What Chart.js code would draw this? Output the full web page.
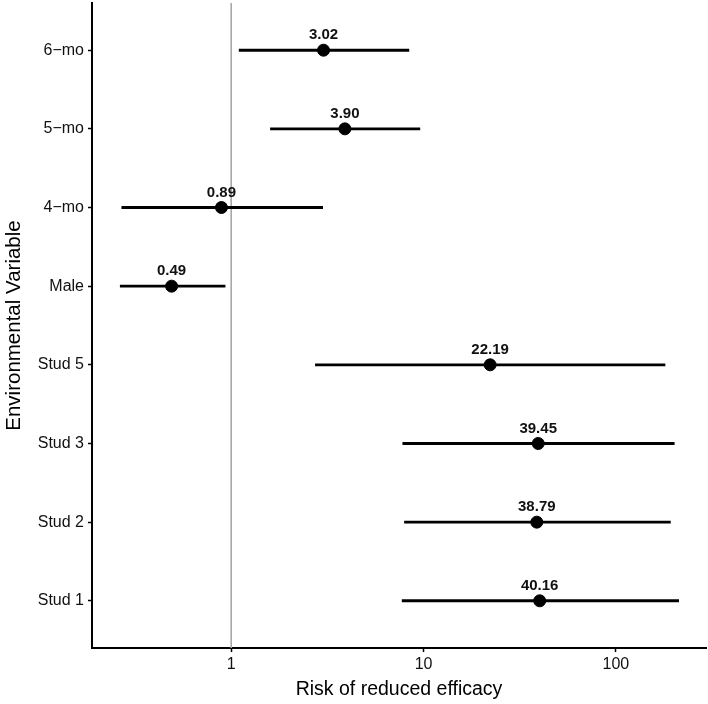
<!DOCTYPE html>
<html>
<head>
<meta charset="utf-8">
<script src="https://cdn.jsdelivr.net/npm/chart.js"></script>
<style>
  html, body { margin: 0; padding: 0; background: #fff; }
  #wrap { width: 708px; height: 704px; }
</style>
</head>
<body>
<div id="wrap"><canvas id="forest" width="708" height="704"></canvas></div>
<script>
// forest plot: odds of reduced efficacy per variable (log x axis)
const categories = ['6\u2212mo', '5\u2212mo', '4\u2212mo', 'Male', 'Stud 5', 'Stud 3', 'Stud 2', 'Stud 1'];
const estimates = [3.02, 3.90, 0.89, 0.49, 22.19, 39.45, 38.79, 40.16];
const lowerCI = [1.10, 1.60, 0.27, 0.265, 2.74, 7.80, 7.96, 7.74];
const upperCI = [8.39, 9.57, 2.99, 0.93, 180, 201, 192, 212];
const xTicks = [1, 10, 100];
const refValue = 1;

const FONT = "'Liberation Sans', Arial, sans-serif";

const pointLabels = {
  id: 'pointLabels',
  afterDatasetsDraw(chart) {
    const ctx = chart.ctx;
    const meta = chart.getDatasetMeta(2);
    ctx.save();
    ctx.font = 'bold 15px ' + FONT;
    ctx.fillStyle = '#111';
    ctx.textAlign = 'center';
    ctx.textBaseline = 'middle';
    meta.data.forEach((pt, i) => {
      ctx.fillText(estimates[i].toFixed(2), pt.x, pt.y - 15);
    });
    ctx.restore();
  }
};

new Chart(document.getElementById('forest'), {
  type: 'bar',
  data: {
    datasets: [
      {
        type: 'line',
        data: [{ x: refValue, y: 0.4 }, { x: refValue, y: 8.6 }],
        borderColor: '#a8a8a8',
        borderWidth: 1.6,
        pointRadius: 0,
        order: 3
      },
      {
        type: 'bar',
        data: categories.map((c, i) => ({ y: i + 1, x: [lowerCI[i], upperCI[i]] })),
        backgroundColor: '#000',
        borderWidth: 0,
        barThickness: 2.2,
        order: 2
      },
      {
        type: 'scatter',
        data: categories.map((c, i) => ({ x: estimates[i], y: i + 1 })),
        backgroundColor: '#000',
        borderColor: '#000',
        pointRadius: 6,
        order: 1
      }
    ]
  },
  options: {
    indexAxis: 'y',
    responsive: false,
    animation: false,
    layout: { autoPadding: false, padding: { top: 3, right: 2, left: 0, bottom: 0 } },
    plugins: { legend: { display: false }, tooltip: { enabled: false } },
    scales: {
      x: {
        type: 'logarithmic',
        min: 0.189,
        max: 294,
        afterBuildTicks: (scale) => { scale.ticks = xTicks.map(v => ({ value: v })); },
        afterFit: (scale) => { scale.height = 56; scale.paddingLeft = 0; scale.paddingRight = 0; },
        ticks: {
          color: '#111',
          font: { family: FONT, size: 16 },
          padding: 3,
          maxRotation: 0,
          autoSkip: false,
          callback: (v) => String(v)
        },
        grid: { display: true, drawOnChartArea: false, tickLength: 4, tickColor: '#000', tickWidth: 1.5 },
        border: { display: true, color: '#000', width: 2 },
        title: {
          display: true,
          text: 'Risk of reduced efficacy',
          color: '#000',
          font: { family: FONT, size: 19.5 },
          padding: { top: 0, bottom: 3 }
        }
      },
      y: {
        type: 'linear',
        reverse: true,
        offset: false,
        min: 0.4,
        max: 8.6,
        afterBuildTicks: (scale) => { scale.ticks = categories.map((c, i) => ({ value: i + 1 })); },
        afterFit: (scale) => { scale.width = 92; scale.paddingTop = 0; scale.paddingBottom = 0; },
        ticks: {
          color: '#111',
          font: { family: FONT, size: 16 },
          padding: 4,
          autoSkip: false,
          callback: (v) => categories[v - 1]
        },
        grid: { display: true, offset: false, drawOnChartArea: false, tickLength: 4, tickColor: '#000', tickWidth: 1.5 },
        border: { display: true, color: '#000', width: 2 },
        title: {
          display: true,
          text: 'Environmental Variable',
          color: '#000',
          font: { family: FONT, size: 20.5 },
          padding: { top: 2, bottom: 0 }
        }
      }
    }
  },
  plugins: [pointLabels]
});
</script>
</body>
</html>
